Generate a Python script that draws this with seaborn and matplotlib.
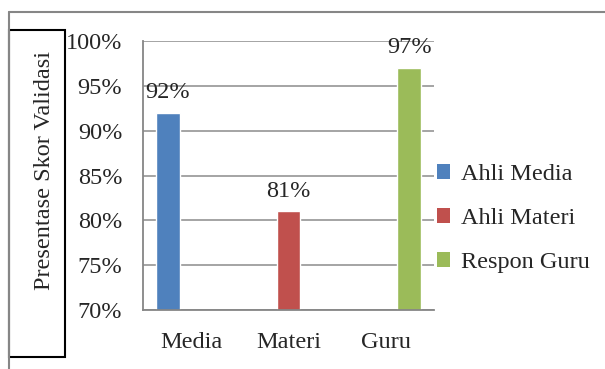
import matplotlib
matplotlib.use("Agg")
import matplotlib.pyplot as plt
from matplotlib.patches import Rectangle, Patch
from matplotlib.lines import Line2D
import seaborn as sns
import pandas as pd

categories = ["Media", "Materi", "Guru"]
series = ["Ahli Media", "Ahli Materi", "Respon Guru"]
ahli_media = [0.92, 0.0, 0.0]
ahli_materi = [0.0, 0.81, 0.0]
respon_guru = [0.0, 0.0, 0.97]
colors = ["#4F81BD", "#C0504D", "#9BBB59"]
y_ticks = [0.70, 0.75, 0.80, 0.85, 0.90, 0.95, 1.00]
y_label = "Presentase Skor Validasi"

sns.set_style("white")
plt.rcParams["font.family"] = ["Liberation Serif", "DejaVu Serif"]
FS = 17.5

rows = []
for s, vals in zip(series, [ahli_media, ahli_materi, respon_guru]):
    for c, v in zip(categories, vals):
        rows.append({"Kategori": c, "Seri": s, "Nilai": v})
df = pd.DataFrame(rows)

W, H = 605, 369
fig = plt.figure(figsize=(W / 100, H / 100), dpi=100)
ax = fig.add_axes([143 / W, 1 - 310 / H, (434 - 143) / W, (310 - 41) / H])

sns.barplot(data=df, x="Kategori", y="Nilai", hue="Seri", palette=colors,
            width=0.74, dodge=True, ax=ax, legend=False, saturation=1)

ax.set_ylim(0.70, 1.00)
ax.set_xlim(-0.5, 2.5)
ax.set_yticks(y_ticks)
ax.set_yticklabels([f"{int(round(t * 100))}%" for t in y_ticks], fontsize=FS)
ax.set_xticks(range(len(categories)))
ax.set_xticklabels(categories, fontsize=FS)
ax.set_xticks([-0.5, 0.5, 1.5, 2.5], minor=True)
ax.tick_params(axis="x", which="major", length=0, pad=16)
ax.tick_params(axis="x", which="minor", length=5, width=1.2, color="#868686")
ax.tick_params(axis="y", length=5, width=1.2, color="#868686", pad=10)
ax.set_xlabel("")
ax.set_ylabel("")
ax.yaxis.grid(True, color="#8c8c8c", linewidth=1.1)
ax.set_axisbelow(True)
for side in ["top", "right"]:
    ax.spines[side].set_visible(False)
for side in ["left", "bottom"]:
    ax.spines[side].set_color("#868686")
    ax.spines[side].set_linewidth(1.3)

all_vals = [ahli_media, ahli_materi, respon_guru]
for cont, vals in zip(ax.containers, all_vals):
    labels = [f"{int(round(v * 100))}%" if v > 0 else "" for v in vals]
    ax.bar_label(cont, labels=labels, padding=7, fontsize=FS)

handles = [Patch(facecolor=c, edgecolor="none") for c in colors]
fig.legend(handles, series, loc="center left", bbox_to_anchor=(437 / W, 1 - 218.5 / H),
           frameon=False, fontsize=FS, handlelength=0.55, handleheight=0.55,
           handletextpad=0.45, labelspacing=0.95, borderpad=0, borderaxespad=0)

# y label box
fig.patches.append(Rectangle((9 / W, 1 - 357 / H), (65 - 9) / W, (357 - 30) / H,
                             transform=fig.transFigure, fill=False,
                             edgecolor="black", linewidth=1.5))
fig.text(45 / W, 1 - 170 / H, y_label, rotation=90, ha="center", va="center",
         fontsize=FS)

# outer frame lines
fig.lines.append(Line2D([9 / W, 1.0], [1 - 12 / H, 1 - 12 / H], transform=fig.transFigure,
                        color="#868686", linewidth=1.5))
fig.lines.append(Line2D([9 / W, 9 / W], [0, 1 - 12 / H], transform=fig.transFigure,
                        color="#868686", linewidth=1.5))

fig.savefig("out.png", dpi=100)
